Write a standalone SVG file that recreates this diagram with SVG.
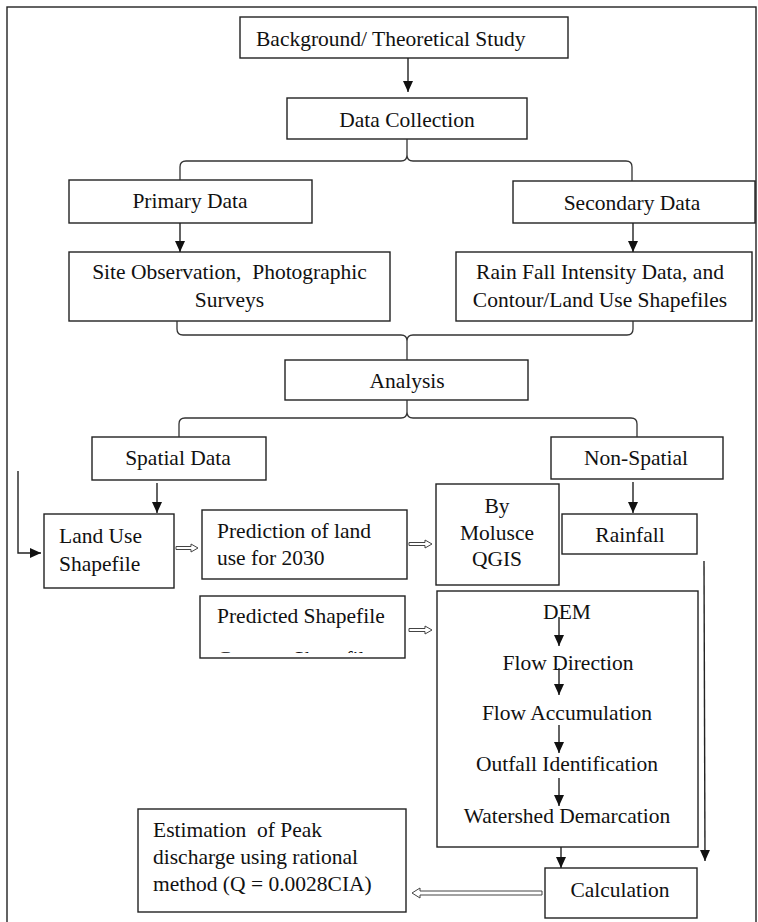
<svg xmlns="http://www.w3.org/2000/svg" width="758" height="922" viewBox="0 0 758 922">
<defs>
<style>
.box{fill:#fff;stroke:#222;stroke-width:1.4}
.ln{fill:none;stroke:#222;stroke-width:1.4}
.br{fill:none;stroke:#333;stroke-width:1.3}
.dbl{fill:#fff;stroke:#444;stroke-width:1}
.t{font-family:'Liberation Serif','DejaVu Serif',serif;font-size:21.5px;fill:#111}
.c{text-anchor:middle}
</style>
<marker id="ah" markerUnits="userSpaceOnUse" markerWidth="12" markerHeight="10" refX="11" refY="5" orient="auto">
<path d="M0,0 L11,5 L0,10 z" fill="#111"/>
</marker>
<clipPath id="clipPred"><rect x="201" y="597" width="203" height="56"/></clipPath>
</defs>
<rect x="7" y="7" width="749" height="930" fill="none" stroke="#222" stroke-width="1.4"/>
<g class="t" font-family="Liberation Serif, DejaVu Serif, serif" font-size="21.5">
<g id="n-background"><rect class="box" x="240" y="17" width="328" height="41"/><text x="256" y="46">Background/ Theoretical Study</text></g>
<g id="n-datacollection"><rect class="box" x="287" y="98" width="240" height="41"/><text class="c" x="407" y="127">Data Collection</text></g>
<g id="n-primary"><rect class="box" x="69" y="180" width="243" height="43"/><text class="c" x="190" y="208">Primary Data</text></g>
<g id="n-secondary"><rect class="box" x="513" y="181" width="242" height="42"/><text class="c" x="632" y="210">Secondary Data</text></g>
<g id="n-site"><rect class="box" x="69" y="252" width="321" height="69"/><text class="c" x="229.5" y="279">Site Observation,&#160; Photographic</text><text class="c" x="229.5" y="307">Surveys</text></g>
<g id="n-rain"><rect class="box" x="456" y="252" width="296" height="69"/><text class="c" x="600" y="279">Rain Fall Intensity Data, and</text><text class="c" x="600" y="307">Contour/Land Use Shapefiles</text></g>
<g id="n-analysis"><rect class="box" x="285" y="360" width="243" height="40"/><text class="c" x="407" y="388">Analysis</text></g>
<g id="n-spatial"><rect class="box" x="92" y="437" width="174" height="43"/><text class="c" x="178" y="465">Spatial Data</text></g>
<g id="n-nonspatial"><rect class="box" x="551" y="437" width="172" height="42"/><text class="c" x="636" y="465">Non-Spatial</text></g>
<g id="n-landuse"><rect class="box" x="44" y="514" width="130" height="74"/><text x="59" y="543">Land Use</text><text x="59" y="571">Shapefile</text></g>
<g id="n-prediction"><rect class="box" x="202" y="510" width="205" height="69"/><text x="217" y="538">Prediction of land</text><text x="217" y="565">use for 2030</text></g>
<g id="n-molusce"><rect class="box" x="436" y="484" width="123" height="101"/><text class="c" x="497" y="513">By</text><text class="c" x="497" y="540">Molusce</text><text class="c" x="497" y="566">QGIS</text></g>
<g id="n-rainfall"><rect class="box" x="562" y="514" width="135" height="40"/><text class="c" x="630" y="542">Rainfall</text></g>
<g id="n-predicted"><rect class="box" x="200" y="596" width="205" height="62"/><text x="217" y="623">Predicted Shapefile</text><text x="217" y="666" clip-path="url(#clipPred)">Contour Shapefile</text></g>
<g id="n-dem"><rect class="box" x="437" y="591" width="261" height="256"/><text class="c" x="567" y="619">DEM</text><text class="c" x="568" y="670">Flow Direction</text><text class="c" x="567" y="720">Flow Accumulation</text><text class="c" x="567" y="771">Outfall Identification</text><text class="c" x="567" y="823">Watershed Demarcation</text></g>
<g id="n-calculation"><rect class="box" x="545" y="868" width="152" height="50"/><text class="c" x="620" y="897">Calculation</text></g>
<g id="n-estimation"><rect class="box" x="138" y="809" width="268" height="103"/><text x="153" y="837">Estimation&#160; of Peak</text><text x="153" y="864">discharge using rational</text><text x="153" y="891">method (Q = 0.0028CIA)</text></g>
</g>
<g id="connectors">
<line class="ln" x1="408" y1="58" x2="408" y2="92" marker-end="url(#ah)"/>
<path class="br" d="M180,180 V167 Q180,161 186,161 H401 Q407,161 407,155 V139 M407,155 Q407,161 413,161 H626 Q632,161 632,167 V181"/>
<line class="ln" x1="180" y1="223" x2="180" y2="252" marker-end="url(#ah)"/>
<line class="ln" x1="633" y1="223" x2="633" y2="252" marker-end="url(#ah)"/>
<path class="br" d="M177,321 V329 Q177,335 183,335 H401 Q407,335 407,341 V360 M407,341 Q407,335 413,335 H627 Q633,335 633,329 V321"/>
<path class="br" d="M407,400 V412 Q407,418 401,418 H185 Q179,418 179,424 V437 M407,412 Q407,418 413,418 H631 Q637,418 637,424 V437"/>
<line class="ln" x1="157" y1="483" x2="157" y2="513" marker-end="url(#ah)"/>
<line class="ln" x1="633" y1="482" x2="633" y2="513" marker-end="url(#ah)"/>
<polyline class="ln" points="18,471 18,553 41,553" marker-end="url(#ah)"/>
<path class="dbl" d="M176,546.5 H191 V544 L198,548 L191,552 V549.5 H176 Z"/>
<path class="dbl" d="M409,542.5 H425 V540 L432,544 L425,548 V545.5 H409 Z"/>
<path class="dbl" d="M409,628.5 H425 V626 L432,630 L425,634 V631.5 H409 Z"/>
<line class="ln" x1="559" y1="617" x2="559" y2="646" marker-end="url(#ah)"/>
<line class="ln" x1="559" y1="668" x2="559" y2="695" marker-end="url(#ah)"/>
<line class="ln" x1="559" y1="725" x2="559" y2="753" marker-end="url(#ah)"/>
<line class="ln" x1="559" y1="778" x2="559" y2="806" marker-end="url(#ah)"/>
<line class="ln" x1="561" y1="847" x2="561" y2="868" marker-end="url(#ah)"/>
<line class="ln" x1="704" y1="561" x2="705" y2="861" marker-end="url(#ah)"/>
<path class="dbl" d="M542,891 H420 V888 L412,893 L420,898 V895 H542 Z"/>
</g>
</svg>
